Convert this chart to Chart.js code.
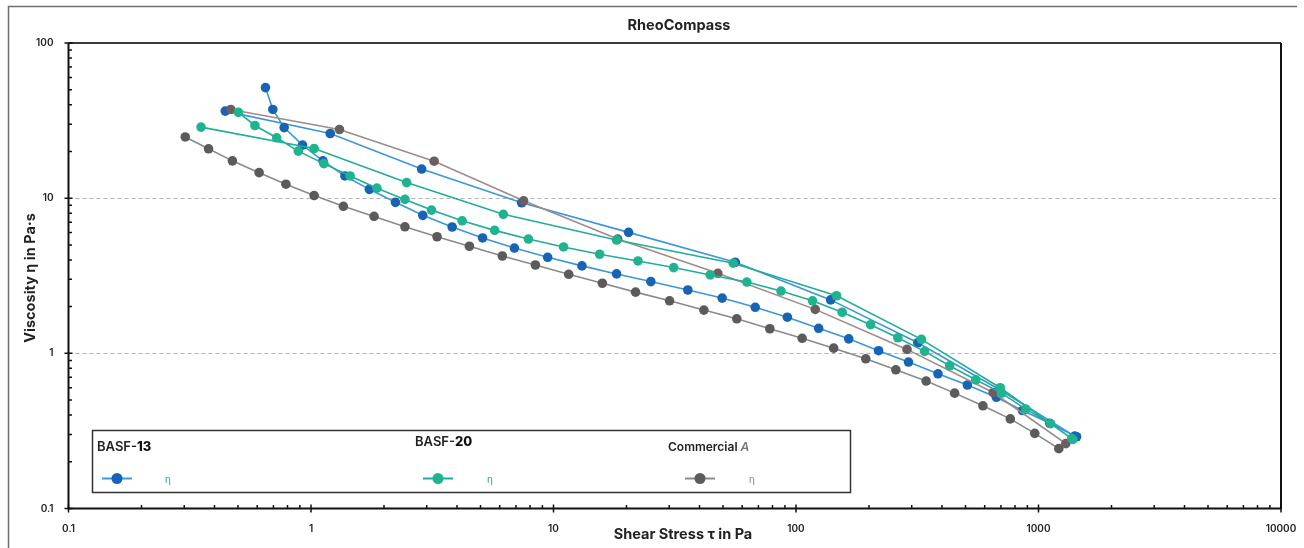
<!DOCTYPE html>
<html lang="en">
<head>
<meta charset="UTF-8">
<title>RheoCompass - Viscosity vs Shear Stress</title>
<style>
  html, body { margin: 0; padding: 0; background: #fff; }
  #wrap { width: 1304px; height: 548px; }
</style>
</head>
<body>
<div id="wrap"><canvas id="flowChart" width="1304" height="548"></canvas></div>

<script src="https://cdn.jsdelivr.net/npm/chart.js@4.4.1/dist/chart.umd.min.js"></script>
<script>
// Flow curves: up ramp then down ramp. Shear stress in Pa, viscosity in Pa·s.
const basf13UpStress = [0.649, 0.696, 0.775, 0.923, 1.12, 1.38, 1.74, 2.23, 2.89, 3.82, 5.10, 6.90, 9.46, 13.1, 18.2, 25.2, 35.8, 49.6, 67.9, 92.1, 124, 165, 219, 291, 385, 509, 670, 859, 1113, 1435];
const basf13UpVisc   = [51.6, 37.3, 28.5, 22.0, 17.4, 13.9, 11.4, 9.40, 7.75, 6.52, 5.54, 4.77, 4.16, 3.66, 3.25, 2.90, 2.56, 2.27, 1.98, 1.71, 1.45, 1.24, 1.04, 0.879, 0.738, 0.625, 0.521, 0.428, 0.354, 0.290];
const basf13DownStress = [1410, 692, 318, 139, 56.2, 20.4, 7.39, 2.86, 1.20, 0.443];
const basf13DownVisc   = [0.293, 0.582, 1.17, 2.21, 3.86, 6.02, 9.34, 15.4, 26.1, 36.4];

const basf20UpStress = [0.502, 0.587, 0.722, 0.886, 1.13, 1.45, 1.87, 2.44, 3.14, 4.20, 5.72, 7.88, 11.0, 15.5, 22.3, 31.3, 44.3, 62.7, 86.7, 117, 155, 203, 263, 339, 430, 551, 704, 887, 1121, 1386];
const basf20UpVisc   = [35.7, 29.4, 24.5, 20.1, 16.7, 13.9, 11.6, 9.82, 8.38, 7.15, 6.20, 5.45, 4.85, 4.35, 3.94, 3.57, 3.20, 2.88, 2.52, 2.18, 1.84, 1.53, 1.26, 1.03, 0.831, 0.675, 0.554, 0.437, 0.352, 0.279];
const basf20DownStress = [1370, 695, 329, 147, 55.1, 18.2, 6.21, 2.48, 1.03, 0.352];
const basf20DownVisc   = [0.283, 0.600, 1.23, 2.35, 3.81, 5.37, 7.87, 12.6, 20.9, 28.7];

const commAUpStress = [0.303, 0.378, 0.474, 0.611, 0.788, 1.03, 1.36, 1.82, 2.44, 3.31, 4.50, 6.15, 8.42, 11.55, 15.9, 21.8, 30.1, 41.7, 57.0, 78.0, 106, 143, 194, 258, 344, 451, 590, 765, 965, 1213];
const commAUpVisc   = [24.8, 20.8, 17.4, 14.6, 12.3, 10.4, 8.86, 7.63, 6.54, 5.64, 4.90, 4.24, 3.71, 3.23, 2.83, 2.48, 2.18, 1.90, 1.67, 1.44, 1.25, 1.08, 0.922, 0.783, 0.663, 0.554, 0.459, 0.378, 0.305, 0.243];
const commADownStress = [1296, 650, 287, 120, 47.6, 18.4, 7.53, 3.22, 1.31, 0.467];
const commADownVisc   = [0.262, 0.559, 1.06, 1.92, 3.28, 5.45, 9.62, 17.3, 27.7, 37.3];

const xTickValues = [0.1, 1, 10, 100, 1000, 10000];
const xTickLabels = ['0.1', '1', '10', '100', '1000', '10000'];
const yTickValues = [0.1, 1, 10, 100];
const yTickLabels = ['0.1', '1', '10', '100'];

const COL = {
  blue:  { dot: '#1763b5', line: '#3b98d8', dotBack: '#1763b5', lineBack: '#3b98d8' },
  green: { dot: '#1fb38f', line: '#22ad98', dotBack: '#1fb38f', lineBack: '#22ad98' },
  gray:  { dot: '#5b5b5b', line: '#8a8a8a', dotBack: '#6b5e5e', lineBack: '#a08a8a' }
};

function flowCurve(label, upX, upY, downX, downY, c, order) {
  const nUp = upX.length;
  const data = upX.map((x, i) => ({ x: x, y: upY[i] }))
    .concat(downX.map((x, i) => ({ x: x, y: downY[i] })));
  return {
    label: label,
    data: data,
    showLine: true,
    borderColor: c.line,
    borderWidth: 1.6,
    pointRadius: 4.8,
    pointBorderWidth: 0,
    pointBackgroundColor: data.map((_, i) => i < nUp ? c.dot : c.dotBack),
    segment: { borderColor: s => s.p0DataIndex >= nUp - 1 ? c.lineBack : c.line },
    order: order
  };
}

const FONT = 'Inter, "Liberation Sans", Arial, sans-serif';

// grid lines, axes with inward minor ticks, frame, title and the sample legend
const decorations = {
  id: 'decorations',
  beforeDatasetsDraw(chart) {
    const ctx = chart.ctx, a = chart.chartArea, y = chart.scales.y;
    ctx.save();
    ctx.strokeStyle = '#b3b3b3';
    ctx.lineWidth = 1;
    ctx.setLineDash([4, 3]);
    [1, 10].forEach(v => {
      const py = Math.round(y.getPixelForValue(v)) + 0.5;
      ctx.beginPath(); ctx.moveTo(a.left, py); ctx.lineTo(a.right, py); ctx.stroke();
    });
    ctx.restore();
  },
  afterDraw(chart) {
    const ctx = chart.ctx, a = chart.chartArea;
    const xs = chart.scales.x, ys = chart.scales.y;
    ctx.save();

    // outer frame
    ctx.strokeStyle = '#6e6e6e';
    ctx.lineWidth = 1.5;
    ctx.beginPath();
    ctx.moveTo(8.5, 548); ctx.lineTo(8.5, 6.5); ctx.lineTo(1297, 6.5);
    ctx.stroke();

    // title
    ctx.fillStyle = '#222';
    ctx.font = 'bold 14.5px ' + FONT;
    ctx.textAlign = 'center';
    ctx.textBaseline = 'middle';
    ctx.fillText('RheoCompass', 679, 26);

    // top border of the plot
    ctx.strokeStyle = '#3a3a3a';
    ctx.lineWidth = 2;
    ctx.beginPath(); ctx.moveTo(a.left, a.top); ctx.lineTo(a.right, a.top); ctx.stroke();

    // axes and right border
    ctx.strokeStyle = '#111';
    ctx.lineWidth = 2;
    ctx.beginPath();
    ctx.moveTo(a.left, a.top); ctx.lineTo(a.left, a.bottom); ctx.lineTo(a.right, a.bottom); ctx.lineTo(a.right, a.top);
    ctx.stroke();

    // ticks: majors cross the axis, minors point inward
    ctx.lineWidth = 1.5;
    ctx.beginPath();
    for (let e = -1; e < 4; e++) {
      for (let k = 1; k < 10; k++) {
        const px = xs.getPixelForValue(k * Math.pow(10, e));
        if (k === 1) { ctx.moveTo(px, a.bottom - 4); ctx.lineTo(px, a.bottom + 4); }
        else { ctx.moveTo(px, a.bottom - 3.5); ctx.lineTo(px, a.bottom); }
      }
    }
    ctx.moveTo(a.right, a.bottom - 4); ctx.lineTo(a.right, a.bottom + 4);
    for (let e = -1; e < 2; e++) {
      for (let k = 1; k < 10; k++) {
        const py = ys.getPixelForValue(k * Math.pow(10, e));
        if (k === 1) { ctx.moveTo(a.left - 4, py); ctx.lineTo(a.left + 4, py); }
        else { ctx.moveTo(a.left, py); ctx.lineTo(a.left + 3.5, py); }
      }
    }
    ctx.moveTo(a.left - 4, a.top); ctx.lineTo(a.left + 4, a.top);
    ctx.stroke();

    // axis titles
    ctx.fillStyle = '#222';
    ctx.font = 'bold 14.5px ' + FONT;
    ctx.textAlign = 'center';
    ctx.textBaseline = 'middle';
    ctx.fillText('Shear Stress \u03c4 in Pa', 683, 535);
    ctx.save();
    ctx.translate(31, 278);
    ctx.rotate(-Math.PI / 2);
    ctx.fillText('Viscosity \u03b7 in Pa\u00b7s', 0, 0);
    ctx.restore();

    // legend box
    ctx.strokeStyle = '#333';
    ctx.lineWidth = 1.5;
    ctx.strokeRect(92.5, 430.5, 758, 62);

    function parts(x, y, list) {
      ctx.textAlign = 'left';
      ctx.textBaseline = 'alphabetic';
      list.forEach(p => {
        ctx.font = p.font;
        ctx.fillStyle = p.color;
        ctx.fillText(p.text, x, y);
        x += ctx.measureText(p.text).width;
      });
    }
    parts(97, 451, [
      { text: 'BASF-', font: '600 13px ' + FONT, color: '#222' },
      { text: '13', font: '800 13px ' + FONT, color: '#111' }
    ]);
    parts(415, 446, [
      { text: 'BASF-', font: '600 13px ' + FONT, color: '#222' },
      { text: '20', font: '800 13px ' + FONT, color: '#111' }
    ]);
    parts(668, 451, [
      { text: 'Commercial ', font: '600 12px ' + FONT, color: '#222' },
      { text: 'A', font: 'italic 600 12px ' + FONT, color: '#777' }
    ]);

    function icon(cx, c, etaX) {
      ctx.strokeStyle = c.line;
      ctx.lineWidth = 2;
      ctx.beginPath(); ctx.moveTo(cx - 15, 478.5); ctx.lineTo(cx + 15, 478.5); ctx.stroke();
      ctx.fillStyle = c.dot;
      ctx.beginPath(); ctx.arc(cx, 478.5, 5.5, 0, Math.PI * 2); ctx.fill();
      ctx.fillStyle = c.line;
      ctx.font = '10px ' + FONT;
      ctx.textAlign = 'center';
      ctx.textBaseline = 'middle';
      ctx.fillText('\u03b7', etaX, 480);
    }
    icon(117, COL.blue, 168);
    icon(438, COL.green, 490);
    icon(700, COL.gray, 752);

    ctx.restore();
  }
};

new Chart(document.getElementById('flowChart'), {
  type: 'scatter',
  data: {
    datasets: [
      flowCurve('BASF-13', basf13UpStress, basf13UpVisc, basf13DownStress, basf13DownVisc, COL.blue, 4),
      flowCurve('BASF-20', basf20UpStress, basf20UpVisc, basf20DownStress, basf20DownVisc, COL.green, 2),
      flowCurve('Commercial A', commAUpStress, commAUpVisc, commADownStress, commADownVisc, COL.gray, 3)
    ]
  },
  options: {
    responsive: false,
    animation: false,
    layout: { padding: { left: 8, right: 23, top: 43, bottom: 15 } },
    plugins: {
      legend: { display: false },
      title: { display: false },
      tooltip: { enabled: false }
    },
    scales: {
      x: {
        type: 'logarithmic',
        min: 0.1,
        max: 10000,
        grid: { display: false },
        border: { display: false },
        afterBuildTicks: s => { s.ticks = xTickValues.map(v => ({ value: v })); },
        afterFit: s => { s.height = 24.5; s.paddingLeft = 0; s.paddingRight = 0; },
        ticks: {
          autoSkip: false,
          maxRotation: 0,
          padding: 6,
          color: '#222',
          font: { family: FONT, size: 10, weight: '600' },
          callback: (v, i) => xTickLabels[i]
        }
      },
      y: {
        type: 'logarithmic',
        min: 0.1,
        max: 100,
        grid: { display: false },
        border: { display: false },
        afterBuildTicks: s => { s.ticks = yTickValues.map(v => ({ value: v })); },
        afterFit: s => { s.width = 60.5; s.paddingTop = 0; s.paddingBottom = 0; },
        ticks: {
          autoSkip: false,
          padding: 7,
          color: '#222',
          font: { family: FONT, size: 10, weight: '600' },
          callback: (v, i) => yTickLabels[i]
        }
      }
    }
  },
  plugins: [decorations]
});
</script>
</body>
</html>
